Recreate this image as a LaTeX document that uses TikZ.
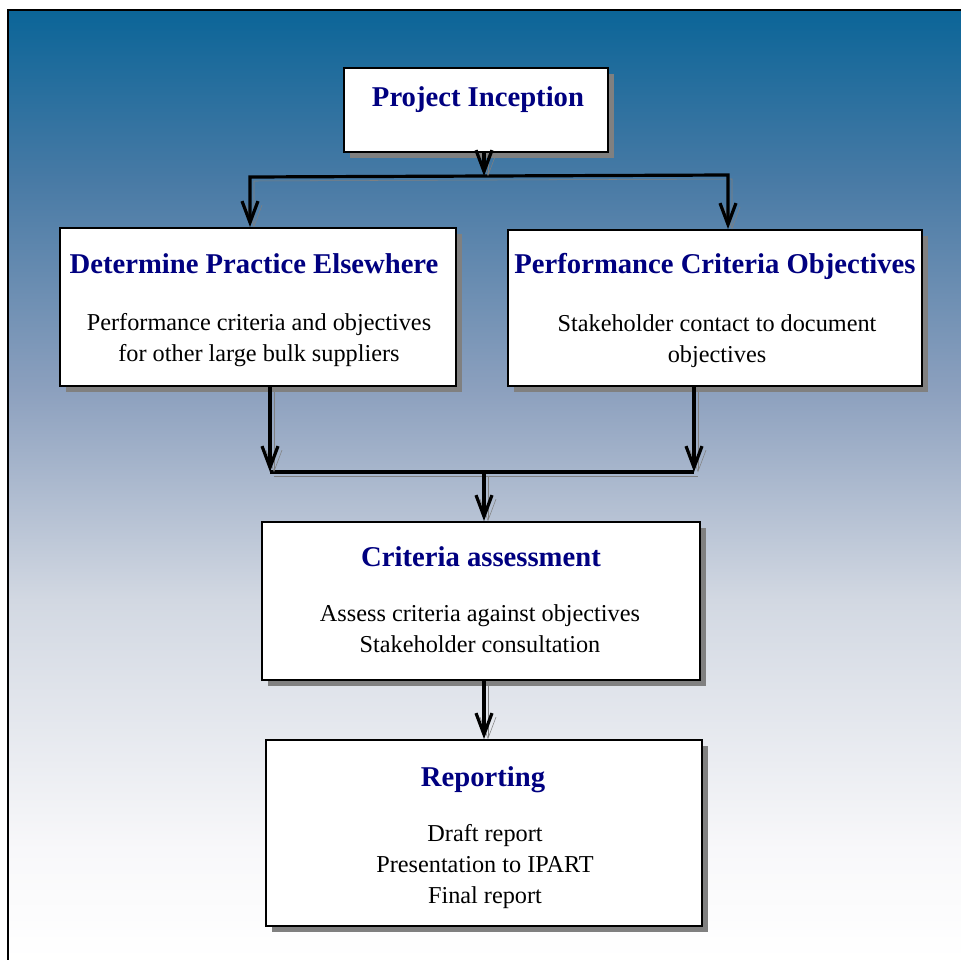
\documentclass[tikz,border=0pt]{standalone}
\usepackage{fontspec}
\setmainfont{Liberation Serif}
\usetikzlibrary{arrows.meta,shadows,calc}
\definecolor{bgtop}{RGB}{11,101,152}
\definecolor{bgone}{RGB}{72,122,165}
\definecolor{bgtwo}{RGB}{140,160,190}
\definecolor{bgthree}{RGB}{210,216,226}
\definecolor{bgfour}{RGB}{248,248,250}
\definecolor{ttlblu}{RGB}{0,0,128}
\definecolor{shgray}{RGB}{128,128,128}
\pgfdeclareverticalshading{panelshade}{100bp}{color(0bp)=(white); color(25bp)=(white); color(30.8bp)=(bgfour); color(43.95bp)=(bgthree); color(55bp)=(bgtwo); color(66.05bp)=(bgone); color(75bp)=(bgtop); color(100bp)=(bgtop)}

\begin{document}
\begin{tikzpicture}[x=0.75pt,y=0.75pt,yscale=-1,xscale=1,
	box/.style={draw=black, line width=1.5pt, fill=white, inner sep=0pt,
		general shadow={fill=shgray, shadow xshift=4.5pt, shadow yshift=-4.5pt}},
	ttl/.style={anchor=base, inner sep=0pt, text=ttlblu, font=\fontsize{21.5}{25}\selectfont\bfseries},
	body/.style={anchor=north, inner sep=0pt, align=center, font=\fontsize{18.2}{23.25}\selectfont},
	link/.style={line width=2.4pt, preaction={draw=shgray, transform canvas={shift={(3pt,-3pt)}}}},
	flow/.style={link, -{Straight Barb[length=16pt,width=12pt,line width=2.4pt]}},
	flowtwo/.style={link, {Straight Barb[length=16pt,width=12pt,line width=2.4pt]}-{Straight Barb[length=16pt,width=12pt,line width=2.4pt]}}]
		\useasboundingbox (0,0) rectangle (961,960);
		\clip (0,0) rectangle (961,960);

		% background panel
		\fill[shading=panelshade] (8,10) rectangle (961,960);
		\draw[line width=1.5pt] (8,10) rectangle (990,990);

		% boxes
		\node[box, minimum width=198pt, minimum height=63pt] (incep) at (476,110) {};
		\node[box, minimum width=297pt, minimum height=118.5pt] (elsew) at (258,307) {};
		\node[box, minimum width=310.5pt, minimum height=117pt] (perf) at (715,308) {};
		\node[box, minimum width=328.5pt, minimum height=118.5pt] (assess) at (481,601) {};
		\node[box, minimum width=327pt, minimum height=139.5pt] (report) at (484,833) {};

		% titles and texts
		\node[ttl] (incepT) at (478,106) {Project Inception};
		\node[ttl] (elsewT) at (254,273) {Determine Practice Elsewhere};
		\node[body] (elsewB) at (259,313) {Performance criteria and objectives\\for other large bulk suppliers};
		\node[ttl] (perfT) at (715,273) {Performance Criteria Objectives};
		\node[body] (perfB) at (717,314) {Stakeholder contact to document\\objectives};
		\node[ttl] (assessT) at (481,566) {Criteria assessment};
		\node[body] (assessB) at (480,604) {Assess criteria against objectives\\Stakeholder consultation};
		\node[ttl] (reportT) at (483,786) {Reporting};
		\node[body] (reportB) at (485,824) {Draft report\\Presentation to IPART\\Final report};

		% connectors
		\coordinate (split) at (484,176);
		\coordinate (splitL) at (250,177);
		\coordinate (splitR) at (728,175);
		\coordinate (merge) at (484,472);
		\coordinate (mergeL) at (270,472);
		\coordinate (mergeR) at (694,472);

		\draw[flowtwo] (splitL |- elsew.north) -- (splitL) -- (splitR) -- (splitR |- perf.north);
		\draw[flow] (incep.south -| split) -- (split);
		\draw[link] (mergeL) -- (mergeR);
		\draw[flow] (elsew.south -| mergeL) -- (mergeL);
		\draw[flow] (perf.south -| mergeR) -- (mergeR);
		\draw[flow] (merge) -- (merge |- assess.north);
		\draw[flow] (assess.south -| report.north) -- (report.north);
\end{tikzpicture}
\end{document}
